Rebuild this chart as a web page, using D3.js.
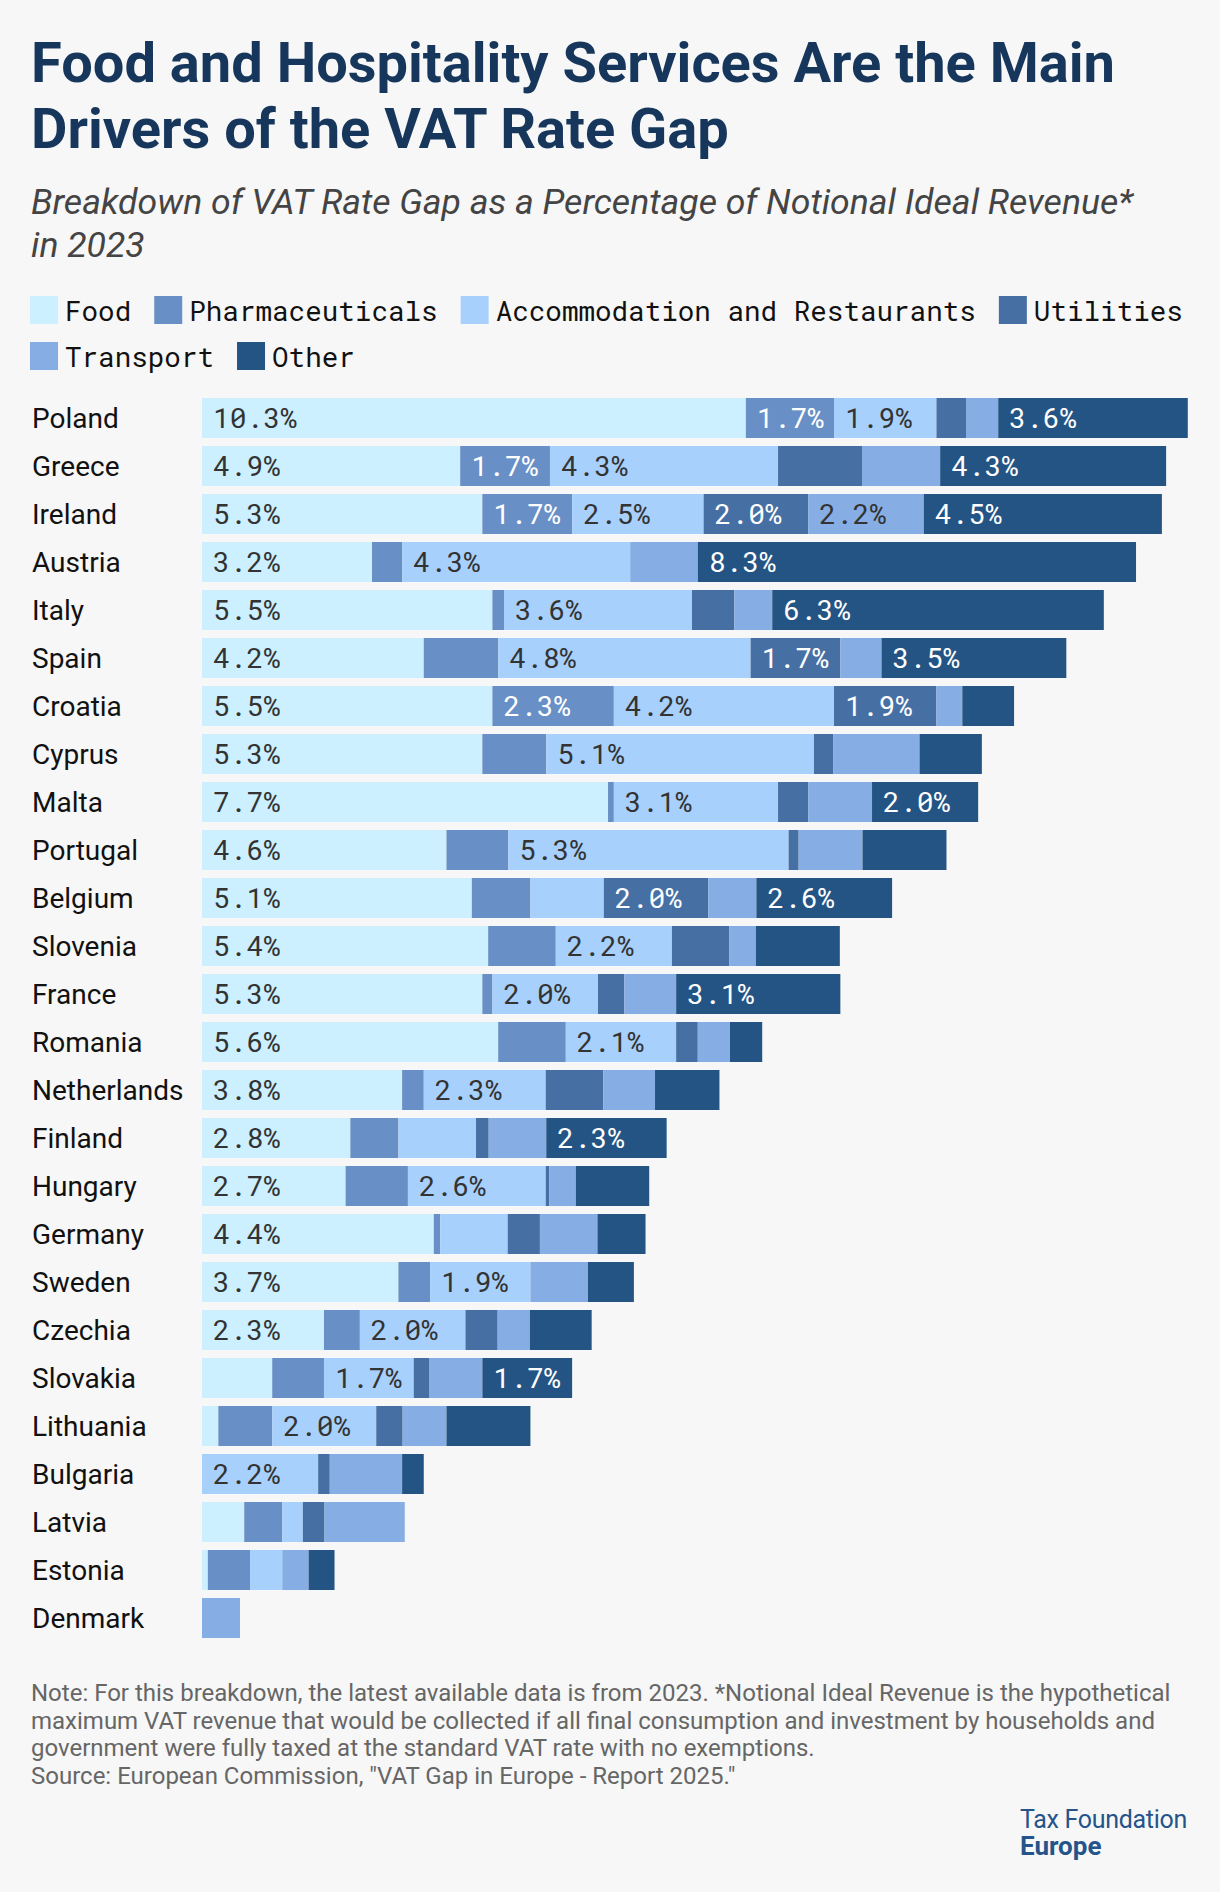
<!DOCTYPE html>
<html>
<head>
<meta charset="utf-8">
<script src="https://cdn.jsdelivr.net/npm/d3@7"></script>
<style>
  body { margin: 0; background: #f7f7f7; }
  svg { display: block; }
</style>
</head>
<body>
<div class="chart"></div>
<script>
var svgWidth = 1220;
var svgHeight = 1892;

// chart data
var countries = ["Poland", "Greece", "Ireland", "Austria", "Italy", "Spain", "Croatia", "Cyprus",
    "Malta", "Portugal", "Belgium", "Slovenia", "France", "Romania", "Netherlands", "Finland",
    "Hungary", "Germany", "Sweden", "Czechia", "Slovakia", "Lithuania", "Bulgaria", "Latvia",
    "Estonia", "Denmark"];

var categories = ["Food", "Pharmaceuticals", "Accommodation and Restaurants", "Utilities", "Transport", "Other"];

var food = [10.3, 4.89, 5.31, 3.22, 5.5, 4.2, 5.5, 5.31, 7.69, 4.63, 5.11, 5.42, 5.31, 5.61, 3.79, 2.81, 2.72, 4.39, 3.72, 2.31, 1.33, 0.31, 0, 0.8, 0.11, 0];
var pharma = [1.67, 1.7, 1.7, 0.57, 0.22, 1.41, 2.3, 1.21, 0.11, 1.17, 1.11, 1.28, 0.19, 1.28, 0.41, 0.91, 1.18, 0.12, 0.6, 0.68, 0.98, 1.02, 0, 0.72, 0.8, 0];
var accom = [1.94, 4.32, 2.49, 4.32, 3.56, 4.78, 4.17, 5.07, 3.11, 5.31, 1.39, 2.2, 2.0, 2.09, 2.31, 1.47, 2.61, 1.28, 1.9, 2.0, 1.7, 1.97, 2.2, 0.39, 0.61, 0];
var utilities = [0.56, 1.59, 1.98, 0, 0.8, 1.7, 1.94, 0.37, 0.57, 0.19, 1.98, 1.09, 0.5, 0.41, 1.09, 0.24, 0.07, 0.61, 0, 0.61, 0.3, 0.5, 0.22, 0.41, 0, 0];
var transport = [0.61, 1.48, 2.19, 1.28, 0.72, 0.78, 0.49, 1.63, 1.21, 1.21, 0.91, 0.5, 0.98, 0.61, 0.98, 1.09, 0.5, 1.09, 1.09, 0.61, 1.0, 0.83, 1.37, 1.52, 0.5, 0.72];
var other = [3.59, 4.28, 4.51, 8.3, 6.28, 3.5, 0.98, 1.18, 2.01, 1.59, 2.57, 1.59, 3.11, 0.61, 1.22, 2.28, 1.39, 0.91, 0.87, 1.17, 1.7, 1.59, 0.41, 0, 0.49, 0];

var series = [food, pharma, accom, utilities, transport, other];

var colors = ["#ccf0ff", "#6890c6", "#a8d0fc", "#4670a4", "#86aee4", "#245484"];
var labelColors = ["#333333", "#ffffff", "#333333", "#ffffff", "#333333", "#ffffff"];

var monoFont = "'Roboto Mono', 'DejaVu Sans Mono', monospace";

// table for d3.stack
var table = countries.map(function (c, i) {
    var row = { country: c };
    categories.forEach(function (k, j) { row[k] = series[j][i]; });
    return row;
});

var svg = d3.select(".chart")
    .append("svg")
    .attr("width", svgWidth)
    .attr("height", svgHeight)
    .style("background", "#f7f7f7");

// title and subtitle
var title = svg.append("text")
    .attr("font-family", "Roboto, sans-serif")
    .attr("font-weight", 700)
    .attr("font-size", 56)
    .attr("fill", "#17365b");
title.append("tspan").attr("x", 31).attr("y", 82).text("Food and Hospitality Services Are the Main");
title.append("tspan").attr("x", 31).attr("y", 148).text("Drivers of the VAT Rate Gap");

var subtitle = svg.append("text")
    .attr("font-family", "Roboto, sans-serif")
    .attr("font-style", "italic")
    .attr("font-size", 35.6)
    .attr("fill", "#444444");
subtitle.append("tspan").attr("x", 31).attr("y", 214).text("Breakdown of VAT Rate Gap as a Percentage of Notional Ideal Revenue*");
subtitle.append("tspan").attr("x", 31).attr("y", 257).text("in 2023");

// legend, wrapped into rows
var legend = svg.append("g");
var lx = 30, ly = 296;
categories.forEach(function (k, j) {
    var item = legend.append("g");
    item.append("rect")
        .attr("width", 28)
        .attr("height", 28)
        .attr("fill", colors[j]);
    var t = item.append("text")
        .attr("x", 35)
        .attr("y", 25)
        .attr("font-family", monoFont)
        .attr("font-size", 27.6)
        .attr("fill", "#111111")
        .text(k);
    var tw = t.node().getComputedTextLength();
    if (lx + 35 + tw > 1200) {
        lx = 30;
        ly += 46;
    }
    item.attr("transform", `translate(${lx}, ${ly})`);
    lx += 35 + tw + 23;
});

// scales
var stack = d3.stack().keys(categories);
var stacked = stack(table);

var totals = table.map(function (d) { return d3.sum(categories, k => d[k]); });

var xLinearScale = d3.scaleLinear()
    .domain([0, d3.max(totals)])
    .range([202, 202 + 52.8 * d3.max(totals)]);

var yBandScale = d3.scaleBand()
    .domain(countries)
    .range([394, 394 + 48 * countries.length])
    .paddingInner(1 / 6)
    .paddingOuter(1 / 12);

// country names
svg.append("g").selectAll("text")
    .data(countries)
    .enter()
    .append("text")
    .attr("x", 32)
    .attr("y", d => yBandScale(d) + yBandScale.bandwidth() / 2 + 9.8)
    .attr("font-family", "Roboto, sans-serif")
    .attr("font-size", 28)
    .attr("fill", "#111111")
    .text(d => d);

// stacked bars
var layers = svg.append("g").selectAll("g")
    .data(stacked)
    .enter()
    .append("g")
    .attr("fill", (d, i) => colors[i]);

layers.selectAll("rect")
    .data(d => d)
    .enter()
    .append("rect")
    .attr("x", d => xLinearScale(d[0]))
    .attr("y", d => yBandScale(d.data.country))
    .attr("width", d => xLinearScale(d[1]) - xLinearScale(d[0]))
    .attr("height", yBandScale.bandwidth());

// value labels on the wider segments
layers.each(function (layer, i) {
    d3.select(this).selectAll("text")
        .data(layer.filter(d => d[1] - d[0] >= 1.65))
        .enter()
        .append("text")
        .attr("x", d => xLinearScale(d[0]) + 11)
        .attr("y", d => yBandScale(d.data.country) + yBandScale.bandwidth() / 2 + 9.8)
        .attr("font-family", monoFont)
        .attr("font-size", 28)
        .attr("fill", labelColors[i])
        .text(d => (d[1] - d[0]).toFixed(1) + "%");
});

// note and source
var notes = [
    "Note: For this breakdown, the latest available data is from 2023. *Notional Ideal Revenue is the hypothetical",
    "maximum VAT revenue that would be collected if all final consumption and investment by households and",
    "government were fully taxed at the standard VAT rate with no exemptions.",
    "Source: European Commission, \"VAT Gap in Europe - Report 2025.\""
];
svg.append("g").selectAll("text")
    .data(notes)
    .enter()
    .append("text")
    .attr("x", 31)
    .attr("y", (d, i) => 1701 + i * 27.5)
    .attr("font-family", "Roboto, sans-serif")
    .attr("font-size", 24)
    .attr("fill", "#666666")
    .text(d => d);

// logo
svg.append("text")
    .attr("x", 1020)
    .attr("y", 1828)
    .attr("font-family", "Roboto, sans-serif")
    .attr("font-size", 25)
    .attr("letter-spacing", -0.3)
    .attr("fill", "#24548a")
    .text("Tax Foundation");
svg.append("text")
    .attr("x", 1020)
    .attr("y", 1855)
    .attr("font-family", "Roboto, sans-serif")
    .attr("font-size", 26)
    .attr("font-weight", 700)
    .attr("fill", "#24548a")
    .text("Europe");
</script>
</body>
</html>
